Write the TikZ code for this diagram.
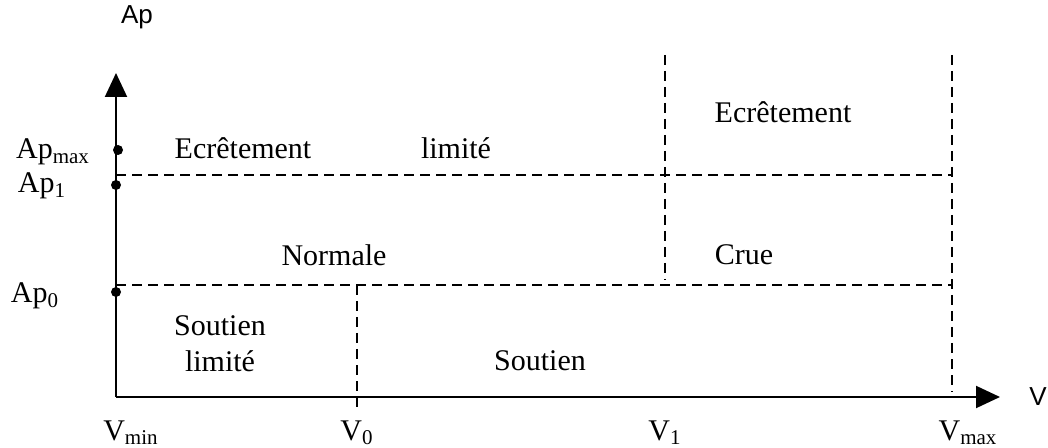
\documentclass[tikz,border=0pt]{standalone}
\usepackage{fontspec}
\setmainfont{Liberation Serif}
\newfontfamily\arialfont{Liberation Sans}
\usetikzlibrary{positioning,arrows.meta}

\begin{document}
\begin{tikzpicture}[x=0.5pt, y=-0.5pt, font=\fontsize{15}{18}\selectfont,
  axis/.style={line width=1pt, -{Triangle[length=12pt,width=11pt]}},
  limit/.style={line width=0.8pt, dash pattern=on 5pt off 3pt},
  zone/.style={inner sep=1pt},
  axlabel/.style={font=\arialfont\fontsize{13}{15}\selectfont, inner sep=0pt}]
\useasboundingbox (0,0) rectangle (1048,448);
% ---- axes ----
\coordinate (O) at (116,397);
\coordinate (ytop) at (116,73);
\coordinate (xend) at (1000,397);
\draw[axis] (O) -- (ytop);
\draw[axis] (O) -- (xend);
\node[axlabel] (ap) at (137,17) {Ap};
\node[axlabel, anchor=east] (v) at (1047,397) {V};
% ---- levels on the Ap axis ----
\fill (118,150) circle (2.5pt);
\fill (116,185) circle (2.5pt);
\fill (116,292) circle (2.5pt);
\node[zone] (apmax) at (53,152) {Ap\textsubscript{max}};
\node[zone] (apone) at (42,186) {Ap\textsubscript{1}};
\node[zone] (apzero) at (35,296) {Ap\textsubscript{0}};
% ---- limits between zones ----
\coordinate (a1) at (116,175);  \coordinate (b1) at (952,175);
\coordinate (a0) at (116,285);  \coordinate (b0) at (952,285);
\coordinate (v0top) at (357,285); \coordinate (v0bot) at (357,410);
\coordinate (v1top) at (665,55);  \coordinate (v1bot) at (665,280);
\coordinate (vmtop) at (952,55);  \coordinate (vmbot) at (952,392);
\draw[limit] (a1) -- (b1);
\draw[limit] (a0) -- (b0);
\draw[limit] (v0top) -- (v0bot);
\draw[limit] (v1top) -- (v1bot);
\draw[limit] (vmtop) -- (vmbot);
% ---- zones ----
\node[zone] (ecrone) at (243,148) {Ecrêtement};
\node[zone] (limone) at (456,148) {limité};
\node[zone] (ecrtwo) at (783,112) {Ecrêtement};
\node[zone] (normale) at (334,255) {Normale};
\node[zone] (crue) at (744,255) {Crue};
\node[zone, align=center] (soutlim) at (220,344) {Soutien\\limité};
\node[zone] (soutien) at (540,361) {Soutien};
% ---- volumes ----
\node[zone] (vmin) at (131,433) {V\textsubscript{min}};
\node[zone] (vzero) at (357,433) {V\textsubscript{0}};
\node[zone] (vone) at (665,433) {V\textsubscript{1}};
\node[zone] (vmax) at (968,433) {V\textsubscript{max}};
\end{tikzpicture}
\end{document}
